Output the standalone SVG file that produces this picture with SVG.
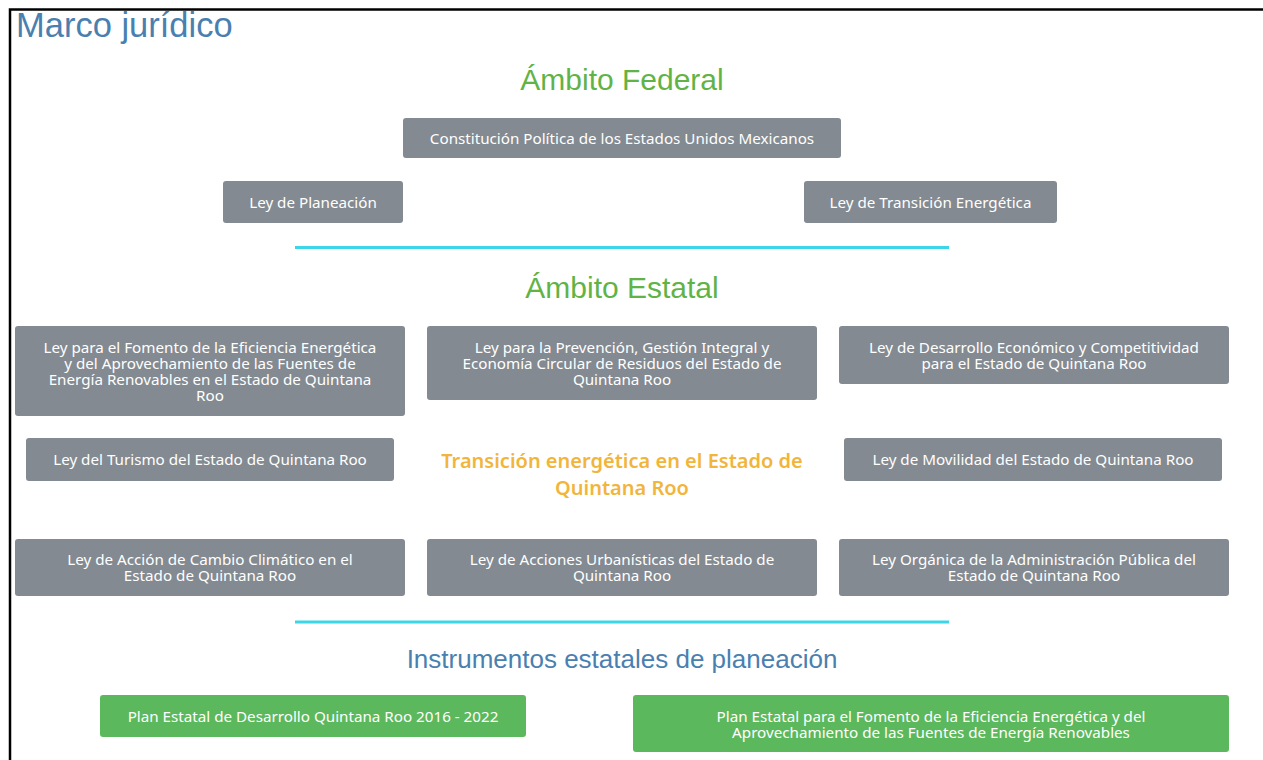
<svg xmlns="http://www.w3.org/2000/svg" width="1263" height="760" viewBox="0 0 1263 760">
<style>
.h{font-family:"Liberation Sans",Arial,sans-serif;text-anchor:middle}
.t{font-family:"Noto Sans","Open Sans",sans-serif;font-size:15.2px;fill:#ffffff;text-anchor:middle}
.g{fill:#838a91}
.s{fill:#5cb85c}
.sep{stroke:#3cd6e8;stroke-width:3}
.o{font-family:"Noto Sans","Open Sans",sans-serif;font-size:20px;font-weight:600;fill:#f2b53c;text-anchor:middle}
</style>
<rect x="0" y="0" width="1263" height="760" fill="#ffffff"/>
<path d="M10 760 V9.5 H1263" fill="none" stroke="#000000" stroke-width="2.5"/>
<text x="16" y="37" font-family="Liberation Sans,Arial,sans-serif" font-size="34.5" fill="#4a80b0">Marco jurídico</text>
<text class="h" x="622" y="90" font-size="30" fill="#62b346">Ámbito Federal</text>
<g id="n-constitucion"><rect class="g" x="403" y="118" width="438" height="40" rx="3"/><text class="t" x="622" y="144">Constitución Política de los Estados Unidos Mexicanos</text></g>
<g id="n-planeacion"><rect class="g" x="223" y="181" width="180" height="42" rx="3"/><text class="t" x="313" y="208">Ley de Planeación</text></g>
<g id="n-transicion"><rect class="g" x="804" y="181" width="253" height="42" rx="3"/><text class="t" x="930.5" y="208">Ley de Transición Energética</text></g>
<g id="connectors">
<line class="sep" x1="295" y1="247.5" x2="949" y2="247.5"/>
<line class="sep" x1="295" y1="622" x2="949" y2="622"/>
</g>
<text class="h" x="622" y="298" font-size="30" fill="#62b346">Ámbito Estatal</text>
<g id="n-fomento"><rect class="g" x="15" y="326" width="390" height="90" rx="3"/><text class="t" x="210" y="353">Ley para el Fomento de la Eficiencia Energética</text><text class="t" x="210" y="369">y del Aprovechamiento de las Fuentes de</text><text class="t" x="210" y="385">Energía Renovables en el Estado de Quintana</text><text class="t" x="210" y="401">Roo</text></g>
<g id="n-residuos"><rect class="g" x="427" y="326" width="390" height="74" rx="3"/><text class="t" x="622" y="353">Ley para la Prevención, Gestión Integral y</text><text class="t" x="622" y="369">Economía Circular de Residuos del Estado de</text><text class="t" x="622" y="385">Quintana Roo</text></g>
<g id="n-desarrollo"><rect class="g" x="839" y="326" width="390" height="58" rx="3"/><text class="t" x="1034" y="353">Ley de Desarrollo Económico y Competitividad</text><text class="t" x="1034" y="369">para el Estado de Quintana Roo</text></g>
<g id="n-turismo"><rect class="g" x="26" y="438" width="368" height="43" rx="3"/><text class="t" x="210" y="465">Ley del Turismo del Estado de Quintana Roo</text></g>
<g id="n-centro"><text class="o" x="622" y="468">Transición energética en el Estado de</text><text class="o" x="622" y="495">Quintana Roo</text></g>
<g id="n-movilidad"><rect class="g" x="844" y="438" width="378" height="43" rx="3"/><text class="t" x="1033" y="465">Ley de Movilidad del Estado de Quintana Roo</text></g>
<g id="n-cambio"><rect class="g" x="15" y="539" width="390" height="57" rx="3"/><text class="t" x="210" y="565">Ley de Acción de Cambio Climático en el</text><text class="t" x="210" y="581">Estado de Quintana Roo</text></g>
<g id="n-urbanisticas"><rect class="g" x="427" y="539" width="390" height="57" rx="3"/><text class="t" x="622" y="565">Ley de Acciones Urbanísticas del Estado de</text><text class="t" x="622" y="581">Quintana Roo</text></g>
<g id="n-organica"><rect class="g" x="839" y="539" width="390" height="57" rx="3"/><text class="t" x="1034" y="565">Ley Orgánica de la Administración Pública del</text><text class="t" x="1034" y="581">Estado de Quintana Roo</text></g>
<text class="h" x="622" y="668" font-size="26" fill="#4a80b0">Instrumentos estatales de planeación</text>
<g id="n-ped"><rect class="s" x="100" y="695" width="426" height="42" rx="3"/><text class="t" x="313" y="722">Plan Estatal de Desarrollo Quintana Roo 2016 - 2022</text></g>
<g id="n-pefee"><rect class="s" x="633" y="695" width="596" height="57" rx="3"/><text class="t" x="931" y="722">Plan Estatal para el Fomento de la Eficiencia Energética y del</text><text class="t" x="931" y="738">Aprovechamiento de las Fuentes de Energía Renovables</text></g>
</svg>
